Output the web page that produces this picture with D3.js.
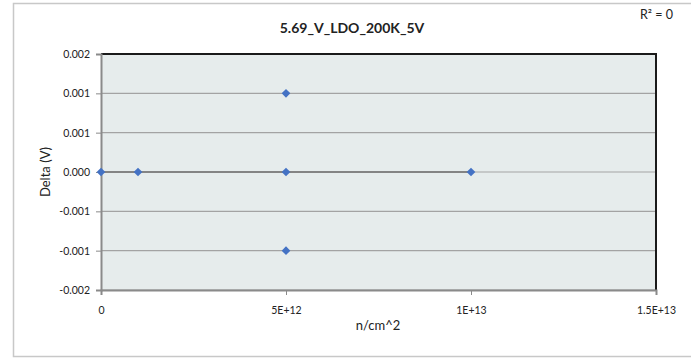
<!DOCTYPE html>
<html><head><meta charset="utf-8">
<script src="https://cdn.jsdelivr.net/npm/d3@7"></script>
<style>body{margin:0;background:#fff}svg{display:block;font-family:Lato,"Open Sans",sans-serif}</style>
</head><body><svg id="c" width="691" height="360"></svg>
<script>
const xValues = [0, 1e12, 5e12, 5e12, 5e12, 1e13];
const yValues = [0, 0, 0.001333, 0, -0.001333, 0];
const xTicks = [0, 5e12, 1e13, 1.5e13];
const xTickLabels = ["0", "5E+12", "1E+13", "1.5E+13"];
const yTicks = [0.002, 0.001333, 0.000667, 0, -0.000667, -0.001333, -0.002];
const yTickLabels = ["0.002", "0.001", "0.001", "0.000", "-0.001", "-0.001", "-0.002"];
const trend = [[0, 0], [1e13, 0]];

const svg = d3.select("#c");
const L = 101, R = 656, T = 54, B = 290;
const x = d3.scaleLinear().domain([0, 1.5e13]).range([L, R]);
const y = d3.scaleLinear().domain([-0.002, 0.002]).range([B, T]);

// outer chart border
svg.append("rect").attr("x", 13.5).attr("y", 3.5).attr("width", 700).attr("height", 353)
  .attr("fill", "#fff").attr("stroke", "#c8c8c8").attr("stroke-width", 1.5);

// plot area
svg.append("rect").attr("x", L).attr("y", T).attr("width", R - L).attr("height", B - T)
  .attr("fill", "#e6ecec");

// gridlines
svg.append("g").selectAll("line").data(yTicks).join("line")
  .attr("x1", L).attr("x2", R).attr("y1", d => y(d)).attr("y2", d => y(d))
  .attr("stroke", "#a3a3a3").attr("stroke-width", 1.2);

// top and right dark border
svg.append("path").attr("d", `M${L},${T}H${R}V${B}`).attr("fill", "none")
  .attr("stroke", "#1a1a1a").attr("stroke-width", 2);

// trendline
svg.append("path").datum(trend)
  .attr("d", d3.line().x(d => x(d[0])).y(d => y(d[1])))
  .attr("stroke", "#6e6e6e").attr("stroke-width", 1.5).attr("fill", "none");

// axes
const yAxis = d3.axisLeft(y).tickValues(yTicks).tickFormat((d, i) => yTickLabels[i]).tickSizeOuter(0).tickSize(5).tickPadding(6);
const gy = svg.append("g").attr("transform", `translate(${L},0)`).call(yAxis);
const xAxis = d3.axisBottom(x).tickValues(xTicks).tickFormat((d, i) => xTickLabels[i]).tickSizeOuter(0).tickSize(5).tickPadding(12);
const gx = svg.append("g").attr("transform", `translate(0,${B})`).call(xAxis);
[gx, gy].forEach(g => {
  g.select(".domain").attr("stroke", "#8a8a8a").attr("stroke-width", 2);
  g.selectAll(".tick line").attr("stroke", "#8a8a8a");
  g.selectAll("text").attr("fill", "#222").style("font-size", "10.5px").style("font-family", "Lato, 'Open Sans', sans-serif");
});

// points
svg.append("g").selectAll("path").data(xValues.map((v, i) => [v, yValues[i]])).join("path")
  .attr("transform", d => `translate(${x(d[0])},${y(d[1])})`)
  .attr("d", d3.symbol().type(d3.symbolDiamond2).size(48))
  .attr("fill", "#4472c4");

// titles
svg.append("text").attr("x", 352).attr("y", 33).attr("text-anchor", "middle")
  .style("font-weight", "bold").style("font-size", "14px").attr("fill", "#222").text("5.69_V_LDO_200K_5V");
svg.append("text").attr("x", 378).attr("y", 330).attr("text-anchor", "middle")
  .style("font-size", "13px").attr("fill", "#222").text("n/cm^2");
svg.append("text").attr("transform", "translate(50,172) rotate(-90)").attr("text-anchor", "middle")
  .style("font-size", "13px").attr("fill", "#222").text("Delta (V)");
svg.append("text").attr("x", 640).attr("y", 19)
  .style("font-size", "12.5px").attr("fill", "#222").text("R² = 0");
</script></body></html>
